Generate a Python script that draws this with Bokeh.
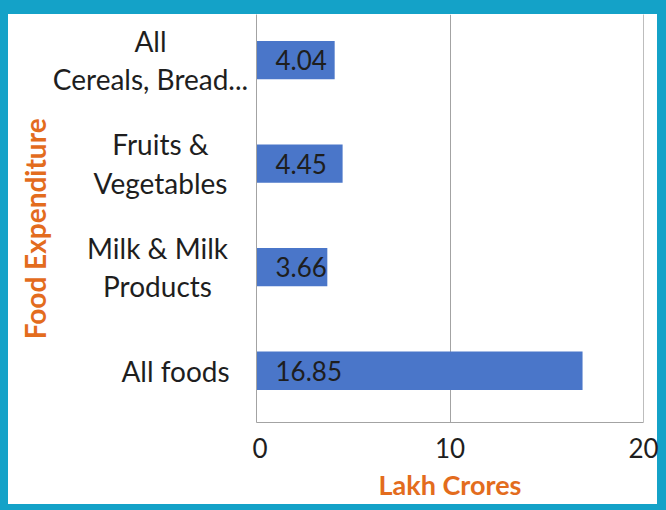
import math
from bokeh.plotting import figure
from bokeh.layouts import row
from bokeh.models import Range1d, FixedTicker, LinearAxis, ColumnDataSource
from bokeh.core.properties import value
from bokeh.embed import file_html
from bokeh.resources import INLINE

# ---- data ----
categories = ["All foods", "Milk & Milk\nProducts", "Fruits &\nVegetables", "All\nCereals, Bread..."]
positions = [0.5, 1.5, 2.5, 3.5]
values = [16.85, 3.66, 4.45, 4.04]
value_labels = ["16.85", "3.66", "4.45", "4.04"]
x_ticks = [0, 10, 20]
x_title = "Lakh Crores"
y_title = "Food Expenditure"

# ---- style ----
TEAL = "#14a2c8"
ORANGE = "#e36c1d"
BLUE = "#4a76c9"
GRID = "#a3a3a3"
TXT = "#1e1e1e"
FONT = "Lato"

X0, X1 = 0, 20
Y0, Y1 = 0, 3.94
yr = Range1d(Y0, Y1)

LEFT_W = 252
# horizontal centre (px) of each category label block, as laid out in the original
label_centres = [175, 157, 160, 150]

# ---- left panel: category names and vertical title ----
lp = figure(width=LEFT_W, height=510, output_backend="svg", toolbar_location=None,
            x_range=Range1d(0, LEFT_W), y_range=yr, x_axis_location=None, y_axis_location=None,
            min_border_left=0, min_border_right=0, min_border_top=14, min_border_bottom=88)
lp.border_fill_color = None
lp.background_fill_color = None
lp.outline_line_color = None
lp.grid.visible = False

csrc = ColumnDataSource(dict(y=positions, name=categories, x=label_centres))
lp.text(x="x", y="y", text="name", source=csrc, text_align="center", text_baseline="middle",
        text_font=value(FONT), text_font_size="28px", text_line_height=1.13, text_color=TXT)
lp.text(x=[34], y=[1.87], text=[y_title], angle=math.pi / 2, text_align="center",
        text_baseline="middle", text_font=value(FONT), text_font_size="28px",
        text_font_style="bold", text_color=ORANGE)

# ---- main plot ----
p = figure(width=666 - LEFT_W, height=510, output_backend="svg", toolbar_location=None,
           x_range=Range1d(X0, X1), y_range=yr,
           min_border_left=4, min_border_right=23, min_border_top=14, min_border_bottom=88)
p.border_fill_color = None
p.background_fill_color = "white"
p.outline_line_color = None

src = ColumnDataSource(dict(y=positions, right=values, left=[X0] * len(values), lab=value_labels))
p.hbar(y="y", left="left", right="right", height=0.37, source=src, fill_color=BLUE, line_color=None)
p.text(x="left", y="y", text="lab", source=src, x_offset=19, text_align="left", text_baseline="middle",
       text_font=value(FONT), text_font_size="26px", text_color=TXT)

xa = p.xaxis[0]
xa.ticker = FixedTicker(ticks=x_ticks)
xa.major_tick_in = 0
xa.major_tick_out = 0
xa.minor_tick_line_color = None
xa.axis_line_color = GRID
xa.major_label_text_font = FONT
xa.major_label_text_font_size = "26px"
xa.major_label_text_color = TXT
xa.major_label_standoff = 15
xa.axis_label = x_title
xa.axis_label_text_font = FONT
xa.axis_label_text_font_size = "27px"
xa.axis_label_text_font_style = "bold"
xa.axis_label_text_color = ORANGE
xa.axis_label_standoff = 7

ya = p.yaxis[0]
ya.ticker = FixedTicker(ticks=[])
ya.major_tick_in = 0
ya.major_tick_out = 0
ya.minor_tick_line_color = None
ya.major_label_text_color = None
ya.major_label_text_font_size = "1px"
ya.major_label_standoff = 0
ya.axis_line_color = GRID

ra = LinearAxis(ticker=FixedTicker(ticks=[]), axis_line_color="#bdbdbd",
                major_tick_line_color=None, minor_tick_line_color=None,
                major_label_text_color=None, major_label_text_font_size="1px")
p.add_layout(ra, "right")

p.xgrid.ticker = FixedTicker(ticks=x_ticks)
p.xgrid.grid_line_color = GRID
p.ygrid.visible = False

layout = row(lp, p, spacing=0)
layout.styles = {"box-shadow": f"inset 8px 14px 0 0 {TEAL}, inset -9px -6px 0 0 {TEAL}"}

open("out.html", "w").write(file_html(layout, INLINE))
